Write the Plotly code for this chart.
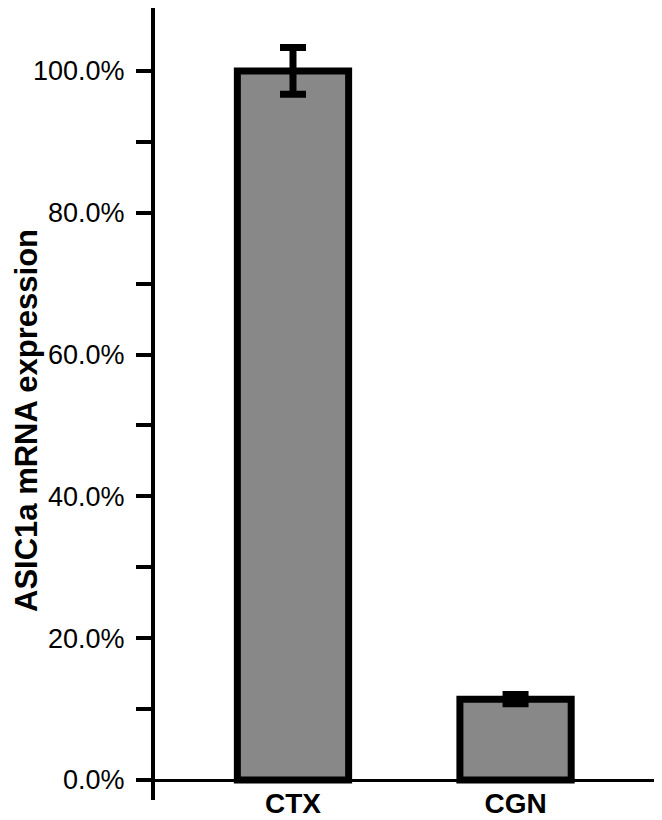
import plotly.graph_objects as go

categories = ["CTX", "CGN"]
values = [100.0, 11.4]
errors = [3.3, 0.65]
tick_values = [0, 10, 20, 30, 40, 50, 60, 70, 80, 90, 100]
tick_labels = ["0.0%", "", "20.0%", "", "40.0%", "", "60.0%", "", "80.0%", "", "100.0%"]
y_title = "ASIC1a mRNA expression"

FONT = "Liberation Sans, Arial, sans-serif"
OFF = 8  # default body margin of the page

fig = go.Figure()
fig.add_trace(go.Bar(
    x=[0, 1],
    y=values,
    width=0.5,
    marker=dict(color="#888888", line=dict(color="black", width=7)),
    error_y=dict(type="data", array=errors, visible=True,
                 color="black", thickness=7, width=13),
))

plot_h = 800 - OFF
fig.update_layout(
    width=662 - OFF, height=820 - OFF,
    margin=dict(l=155 - OFF, r=0, t=0, b=20, autoexpand=False),
    paper_bgcolor="white", plot_bgcolor="white",
    showlegend=False,
    font=dict(family=FONT, color="black"),
    xaxis=dict(
        range=[-0.62, 1.658],
        tickmode="array", tickvals=[0, 1], ticktext=categories,
        showline=False, showgrid=False, zeroline=False, ticks="",
        tickfont=dict(size=28, family=FONT, weight="bold"),
        ticklabelstandoff=-16,
    ),
    yaxis=dict(
        range=[-2.82, 108.87],
        tickmode="array", tickvals=tick_values, ticktext=tick_labels,
        showline=True, linecolor="black", linewidth=4,
        ticks="outside", ticklen=15, tickwidth=4, tickcolor="black",
        showgrid=False,
        zeroline=True, zerolinecolor="black", zerolinewidth=3,
        tickfont=dict(size=27, family=FONT),
        ticklabelstandoff=6,
    ),
    annotations=[dict(
        text="<b>" + y_title + "</b>", textangle=-90,
        xref="paper", yref="paper",
        x=(26 - 155) / 507, y=1 - (421 - OFF) / plot_h,
        xanchor="center", yanchor="middle",
        showarrow=False, font=dict(size=31, family=FONT, color="black"),
    )],
)

fig.write_html("out.html")
